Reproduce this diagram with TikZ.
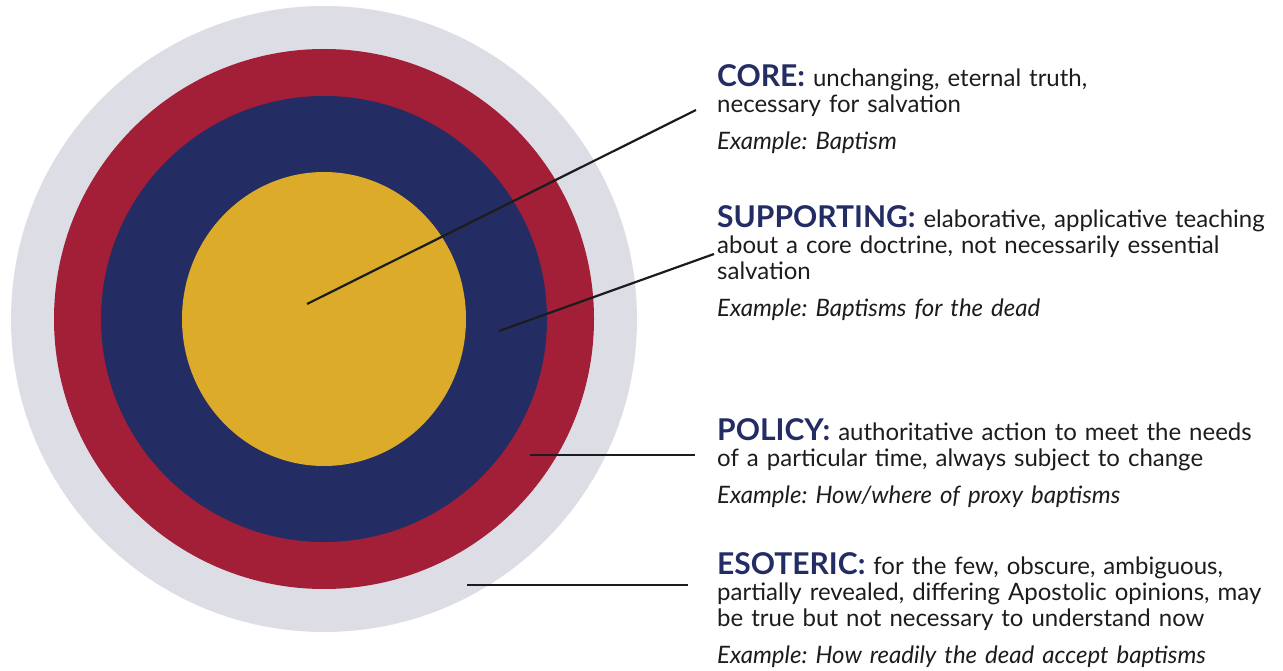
\documentclass[tikz,border=0pt]{standalone}
\usepackage{fontspec}
\setmainfont{Lato}
\usepackage{tikz}
\usetikzlibrary{positioning,calc}
\definecolor{ink}{HTML}{1C1C1C}
\definecolor{mist}{HTML}{DDDDE6}
\definecolor{crimson}{HTML}{A31E37}
\definecolor{navy}{HTML}{232C63}
\definecolor{gold}{HTML}{DBAB29}
\newcommand{\layername}[1]{{\fontsize{30}{26}\selectfont\bfseries\color{navy}#1}}
\frenchspacing

\begin{document}
\begin{tikzpicture}[
    x=1pt, y=-1pt,
    pointer/.style={draw=ink, line width=2.2pt},
    blurb/.style={
      anchor=base west,
      inner sep=0pt,
      text=ink,
      text width=600pt,
      align=left,
      font=\fontsize{24}{26}\selectfont
    }
  ]
  \useasboundingbox (0,0) rectangle (1283,671);

  % the four rings
  \fill[mist] (324,319) circle[radius=313];
  \fill[crimson] (324,319) circle[radius=270];
  \fill[navy] (324,319) circle[radius=223];
  \fill[gold] (324,319) ellipse[x radius=142, y radius=147];

  % descriptions
  \node[blurb] (core) at (717,87) {\layername{CORE:} unchanging, eternal truth,\\
    necessary for salvation\\[11pt]
    \textit{Example: Baptism}};
  \node[blurb] (supporting) at (717,228) {\layername{SUPPORTING:} elaborative, applicative teaching\\
    about a core doctrine, not necessarily essential\\
    salvation\\[11pt]
    \textit{Example: Baptisms for the dead}};
  \node[blurb] (policy) at (717,440) {\layername{POLICY:} authoritative action to meet the needs\\
    of a particular time, always subject to change\\[11pt]
    \textit{Example: How/where of proxy baptisms}};
  \node[blurb] (esoteric) at (717,574) {\layername{ESOTERIC:} for the few, obscure, ambiguous,\\
    partially revealed, differing Apostolic opinions, may\\
    be true but not necessary to understand now\\[11pt]
    \textit{Example: How readily the dead accept baptisms}};

  % pointers
  \coordinate (coreTip) at (307,304);
  \coordinate (coreEnd) at (696,110);
  \coordinate (supportingTip) at (499,331);
  \coordinate (supportingEnd) at (714,254);
  \coordinate (policyTip) at (530,455);
  \coordinate (policyEnd) at (695,455);
  \coordinate (esotericTip) at (467,585);
  \coordinate (esotericEnd) at (688,585);
  \draw[pointer] (coreTip) -- (coreEnd);
  \draw[pointer] (supportingTip) -- (supportingEnd);
  \draw[pointer] (policyTip) -- (policyEnd);
  \draw[pointer] (esotericTip) -- (esotericEnd);
\end{tikzpicture}
\end{document}
